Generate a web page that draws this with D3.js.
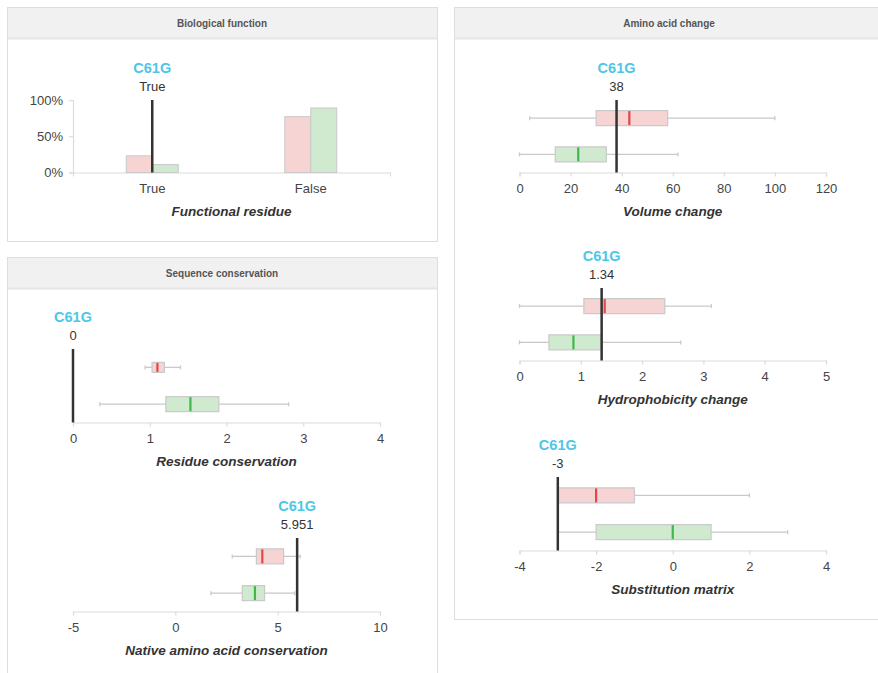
<!DOCTYPE html>
<html>
<head>
<meta charset="utf-8">
<script src="https://cdn.jsdelivr.net/npm/d3@7"></script>
<style>
  body { margin: 0; background: #fff; }
  svg { display: block; font-family: "Liberation Sans", Arial, Helvetica, sans-serif; }
</style>
</head>
<body>
<svg id="chart" width="878" height="673"></svg>
<script>
// ---- data ----
const variantName = "C61G";
const groups = ["pathogenic", "neutral"];

// Biological function: share of variants per functional-residue class
const functionalCategories = ["True", "False"];
const functionalPathogenic = [0.23, 0.77];
const functionalNeutral = [0.11, 0.89];
const functionalVariant = "True";
const percentTicks = [0, 0.5, 1];

// Box statistics: [min, q1, median, q3, max]
const residuePathogenic = [0.94, 1.03, 1.10, 1.19, 1.40];
const residueNeutral = [0.35, 1.21, 1.53, 1.90, 2.81];
const residueVariant = 0;
const residueTicks = [0, 1, 2, 3, 4];

const nativePathogenic = [2.78, 3.96, 4.25, 5.29, 6.10];
const nativeNeutral = [1.74, 3.27, 3.89, 4.36, 5.83];
const nativeVariant = 5.951;
const nativeTicks = [-5, 0, 5, 10];

const volumePathogenic = [4, 30, 43, 58, 100];
const volumeNeutral = [0, 14, 23, 34, 62];
const volumeVariant = 38;
const volumeTicks = [0, 20, 40, 60, 80, 100, 120];

const hydroPathogenic = [0, 1.05, 1.39, 2.37, 3.13];
const hydroNeutral = [0, 0.48, 0.88, 1.34, 2.63];
const hydroVariant = 1.34;
const hydroTicks = [0, 1, 2, 3, 4, 5];

const substPathogenic = [-3, -3, -2, -1, 2];
const substNeutral = [-3, -2, 0, 1, 3];
const substVariant = -3;
const substTicks = [-4, -2, 0, 2, 4];

// ---- styles ----
const fillColor = { pathogenic: "#f6d4d4", neutral: "#cfeacf" };
const medianColor = { pathogenic: "#e2474b", neutral: "#3fb74b" };
const boxStroke = "#c9c9c9";
const axisColor = "#dcdcdc";
const variantColor = "#4ec7e7";

const svg = d3.select("#chart");

// ---- panels ----
const panels = [
  { title: "Biological function", x: 7, y: 7, w: 430, h: 234 },
  { title: "Sequence conservation", x: 7, y: 257, w: 430, h: 440 },
  { title: "Amino acid change", x: 454, y: 7, w: 430, h: 612 }
];
const headerH = 31;
panels.forEach(p => {
  const g = svg.append("g");
  g.append("rect").attr("x", p.x + 0.5).attr("y", p.y + 0.5).attr("width", p.w).attr("height", p.h)
    .attr("fill", "#fff").attr("stroke", "#dedede");
  g.append("rect").attr("x", p.x + 1).attr("y", p.y + 1).attr("width", p.w - 1).attr("height", headerH - 1)
    .attr("fill", "#f1f1f1");
  g.append("line").attr("x1", p.x + 1).attr("x2", p.x + p.w).attr("y1", p.y + headerH + 0.5).attr("y2", p.y + headerH + 0.5)
    .attr("stroke", "#e1e6eb").attr("stroke-width", 2);
  g.append("text").attr("x", p.x + p.w / 2).attr("y", p.y + 20)
    .attr("text-anchor", "middle").attr("font-size", 10).attr("font-weight", "bold").attr("fill", "#555")
    .text(p.title);
});

// plain hyphen-minus for negative tick values
const plainNumber = d => String(d);

function styleAxis(g) {
  g.selectAll(".domain, .tick line").attr("stroke", axisColor).attr("stroke-width", 1.2);
  g.selectAll(".tick text").attr("fill", "#444").attr("font-size", 13)
    .attr("font-family", "\"Liberation Sans\", Arial, Helvetica, sans-serif");
}

function variantMarker(g, x, top, bottom, valueText) {
  g.append("line").attr("x1", x).attr("x2", x).attr("y1", top).attr("y2", bottom)
    .attr("stroke", "#333").attr("stroke-width", 2.5);
  g.append("text").attr("x", x).attr("y", top - 27).attr("text-anchor", "middle")
    .attr("font-size", 14.5).attr("font-weight", "bold").attr("fill", variantColor).text(variantName);
  g.append("text").attr("x", x).attr("y", top - 9).attr("text-anchor", "middle")
    .attr("font-size", 13).attr("fill", "#333").text(valueText);
}

function axisTitle(g, x, y, text) {
  g.append("text").attr("x", x).attr("y", y).attr("text-anchor", "middle")
    .attr("font-size", 13.5).attr("font-weight", "bold").attr("font-style", "italic").attr("fill", "#333")
    .text(text);
}

// ---- bar chart: Biological function ----
(function () {
  const left = 73, right = 390, top = 100, base = 172.5;
  const g = svg.append("g");
  const x = d3.scaleBand().domain(functionalCategories).range([left, right]);
  const xi = d3.scaleBand().domain(groups).range([0, x.bandwidth()]).paddingInner(0).paddingOuter(2.05);
  const y = d3.scaleLinear().domain([0, 1]).range([base, top]);
  const values = { pathogenic: functionalPathogenic, neutral: functionalNeutral };

  const ya = g.append("g").attr("transform", `translate(${left},0)`)
    .call(d3.axisLeft(y).tickValues(percentTicks).tickFormat(d3.format(".0%")).tickSize(4).tickPadding(6));
  styleAxis(ya);
  const xa = g.append("g").attr("transform", `translate(0,${base})`)
    .call(d3.axisBottom(x).tickSizeInner(0).tickSizeOuter(4).tickPadding(11));
  styleAxis(xa);

  functionalCategories.forEach((c, i) => {
    groups.forEach(s => {
      const v = values[s][i];
      g.append("rect")
        .attr("x", x(c) + xi(s)).attr("width", xi.bandwidth())
        .attr("y", y(v)).attr("height", y(0) - y(v))
        .attr("fill", fillColor[s]).attr("stroke", boxStroke).attr("stroke-width", 1);
    });
  });

  const mx = x(functionalVariant) + x.bandwidth() / 2;
  variantMarker(g, mx, y(1), y(0), functionalVariant);
  axisTitle(g, (left + right) / 2, base + 43.5, "Functional residue");
})();

// ---- box plots ----
function boxChart(cfg) {
  const g = svg.append("g");
  const x = d3.scaleLinear().domain(cfg.domain).range([cfg.left, cfg.right]);
  const yc = d3.scalePoint().domain(groups).range([cfg.top, cfg.base]).padding(0.5);
  const stats = { pathogenic: cfg.pathogenic, neutral: cfg.neutral };

  const xa = g.append("g").attr("transform", `translate(0,${cfg.base})`)
    .call(d3.axisBottom(x).tickValues(cfg.ticks).tickFormat(plainNumber).tickSize(4).tickPadding(7));
  styleAxis(xa);

  groups.forEach((s, i) => {
    const [mn, q1, md, q3, mx] = stats[s];
    const cy = yc(s);
    const bh = cfg.boxHeights[i];
    const wg = g.append("g");
    [[mn, q1], [q3, mx]].forEach(([a, b]) => {
      wg.append("line").attr("x1", x(a)).attr("x2", x(b)).attr("y1", cy).attr("y2", cy)
        .attr("stroke", boxStroke).attr("stroke-width", 1.3);
    });
    [mn, mx].forEach(v => {
      wg.append("line").attr("x1", x(v)).attr("x2", x(v)).attr("y1", cy - 2).attr("y2", cy + 2)
        .attr("stroke", boxStroke).attr("stroke-width", 1.3);
    });
    wg.append("rect").attr("x", x(q1)).attr("width", x(q3) - x(q1))
      .attr("y", cy - bh / 2).attr("height", bh)
      .attr("fill", fillColor[s]).attr("stroke", boxStroke).attr("stroke-width", 1.2);
    wg.append("line").attr("x1", x(md)).attr("x2", x(md)).attr("y1", cy - bh / 2 + 0.5).attr("y2", cy + bh / 2 - 0.5)
      .attr("stroke", medianColor[s]).attr("stroke-width", 2.2);
  });

  variantMarker(g, x(cfg.variant), cfg.top, cfg.base, String(cfg.variant));
  axisTitle(g, (cfg.left + cfg.right) / 2, cfg.base + 43.5, cfg.title);
}

boxChart({ title: "Residue conservation", domain: [0, 4], ticks: residueTicks,
  pathogenic: residuePathogenic, neutral: residueNeutral, variant: residueVariant,
  left: 73, right: 380, top: 349, base: 422.5, boxHeights: [10, 15] });

boxChart({ title: "Native amino acid conservation", domain: [-5, 10], ticks: nativeTicks,
  pathogenic: nativePathogenic, neutral: nativeNeutral, variant: nativeVariant,
  left: 73, right: 380, top: 538, base: 611.5, boxHeights: [15, 15] });

boxChart({ title: "Volume change", domain: [0, 120], ticks: volumeTicks,
  pathogenic: volumePathogenic, neutral: volumeNeutral, variant: volumeVariant,
  left: 519.5, right: 826, top: 100, base: 172.5, boxHeights: [15, 15] });

boxChart({ title: "Hydrophobicity change", domain: [0, 5], ticks: hydroTicks,
  pathogenic: hydroPathogenic, neutral: hydroNeutral, variant: hydroVariant,
  left: 519.5, right: 826, top: 288, base: 360.5, boxHeights: [15, 15] });

boxChart({ title: "Substitution matrix", domain: [-4, 4], ticks: substTicks,
  pathogenic: substPathogenic, neutral: substNeutral, variant: substVariant,
  left: 519.5, right: 826, top: 477, base: 550.5, boxHeights: [15, 15] });
</script>
</body>
</html>
